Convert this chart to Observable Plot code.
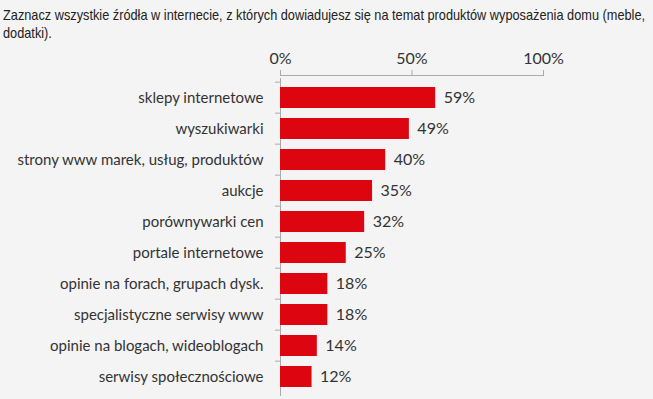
<!DOCTYPE html>
<html><head><meta charset="utf-8">
<script src="https://cdn.jsdelivr.net/npm/d3@7"></script>
<script src="https://cdn.jsdelivr.net/npm/@observablehq/plot@0.6"></script>
<style>
body{margin:0;background:#f4f4f4;width:653px;height:399px;overflow:hidden}
#title{font-family:"Liberation Sans",sans-serif;font-size:15px;line-height:18px;color:#222;height:45px;box-sizing:border-box;padding:6px 0 0 3px;white-space:nowrap;overflow:visible}
#title span{display:inline-block;transform:scaleX(0.85);transform-origin:0 0}
#chart svg{display:block}
</style></head><body>
<div id="title"><span>Zaznacz wszystkie źródła w internecie, z których dowiadujesz się na temat produktów wyposażenia domu (meble,<br>dodatki).</span></div>
<div id="chart"></div>
<script>
const categories = ["sklepy internetowe","wyszukiwarki","strony www marek, usług, produktów","aukcje","porównywarki cen","portale internetowe","opinie na forach, grupach dysk.","specjalistyczne serwisy www","opinie na blogach, wideoblogach","serwisy społecznościowe"];
const values = [59,49,40,35,32,25,18,18,14,12];
const xTicks = [0,50,100];
const data = categories.map((c,i)=>({category:c, value:values[i]}));
const H = 354, mt = 33, mb = 4;
const step = (H-mt-mb)/categories.length;
const chart = Plot.plot({
  width:653, height:H, marginTop:mt, marginBottom:mb, marginLeft:280, marginRight:110,
  style:{fontFamily:"Lato, sans-serif", fontSize:"15px", color:"#333", background:"transparent"},
  x:{domain:[0,100]},
  y:{domain:categories, paddingInner:0.33, paddingOuter:0.165},
  marks:[
    Plot.frame({anchor:"top", stroke:"#aaa", dy:-3}),
    Plot.frame({anchor:"left", stroke:"#aaa"}),
    Plot.axisX(xTicks,{anchor:"top", tickSize:6, tickPadding:6, dy:-3, stroke:"#aaa", tickFormat:d=>d+"%", fill:"#333", fontSize:16, label:null}),
    Plot.axisY({tickSize:0, tickPadding:17, label:null, fill:"#333", fontSize:15}),
    Plot.axisY({tickSize:5, tickFormat:()=>"", dy:-step/2, stroke:"#aaa", label:null}),
    Plot.barX(data,{x:"value", y:"category", fill:"#dc0510"}),
    Plot.text(data,{x:"value", y:"category", text:d=>d.value+"%", textAnchor:"start", dx:8, fill:"#333", fontSize:16})
  ]
});
document.getElementById("chart").appendChild(chart);
</script></body></html>
